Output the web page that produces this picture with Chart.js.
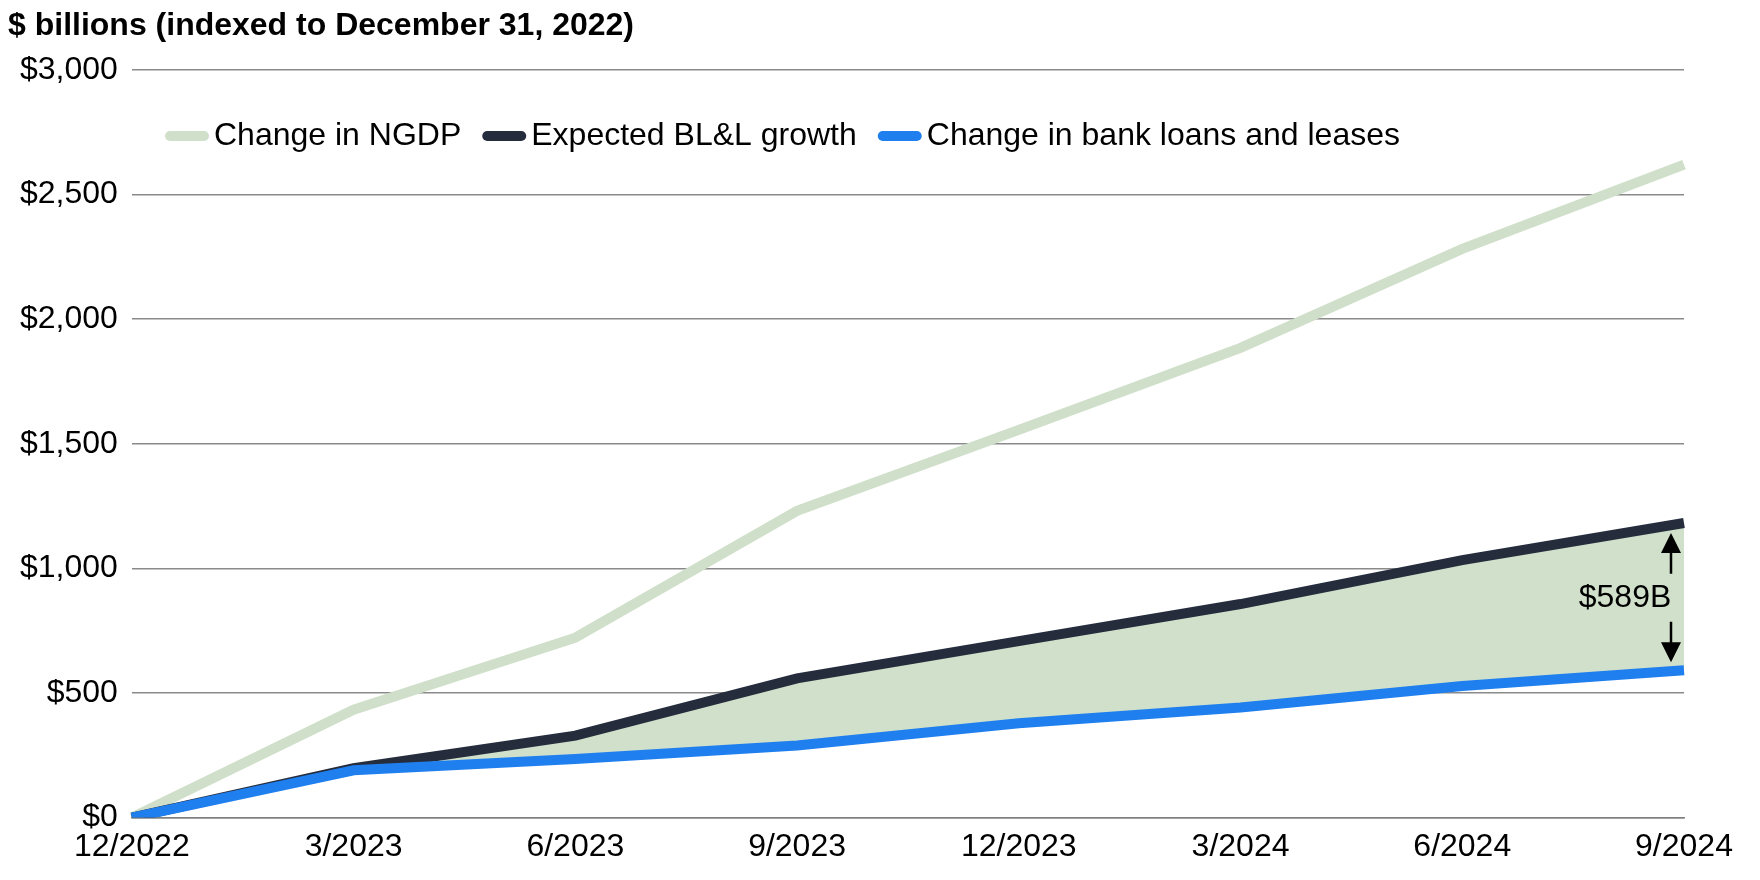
<!DOCTYPE html>
<html>
<head>
<meta charset="utf-8">
<script src="https://cdn.jsdelivr.net/npm/chart.js@4"></script>
<style>
  html, body { margin: 0; padding: 0; background: #fff; }
  #wrap { width: 1760px; height: 880px; }
</style>
</head>
<body>
<div id="wrap"><canvas id="c" width="1760" height="880"></canvas></div>
<script>
// ── Data ────────────────────────────────────────────────────────────────
const categories   = ['12/2022', '3/2023', '6/2023', '9/2023', '12/2023', '3/2024', '6/2024', '9/2024'];
const ngdp         = [0, 433, 722, 1231, 1556, 1885, 2282, 2620];
const expectedBLL  = [0, 198, 329, 559, 708, 857, 1033, 1182];
const bankLoans    = [0, 190, 235, 289, 379, 442, 528, 591];
const gapLabel     = '$589B';

const FONT = 'Liberation Sans, Arial, sans-serif';
const C_NGDP = '#cfdfc9', C_EXP = '#252d3d', C_BANK = '#1f7fef', C_FILL = '#d0e0ca';

// ── Custom drawing: title, legend inside the plot, gap annotation ───────
const extras = {
  id: 'extras',
  afterDraw(chart) {
    const { ctx, scales } = chart;
    ctx.save();
    // title
    ctx.fillStyle = '#000';
    ctx.font = 'bold 32px ' + FONT;
    ctx.textBaseline = 'middle';
    ctx.textAlign = 'left';
    ctx.fillText('$ billions (indexed to December 31, 2022)', 8, 26);

    // legend
    const items = [['Change in NGDP', C_NGDP], ['Expected BL&L growth', C_EXP], ['Change in bank loans and leases', C_BANK]];
    ctx.font = '32px ' + FONT;
    let x = 170; const y = 136;
    for (const [txt, col] of items) {
      ctx.strokeStyle = col; ctx.lineWidth = 10; ctx.lineCap = 'round';
      ctx.beginPath(); ctx.moveTo(x, y); ctx.lineTo(x + 34, y); ctx.stroke();
      ctx.fillStyle = '#000';
      ctx.fillText(txt, x + 44, y);
      x += 44 + ctx.measureText(txt).width + 26;
    }

    // gap annotation at last point
    const last = categories.length - 1;
    const ax = scales.x.getPixelForValue(last) - 13;
    const yTop = scales.y.getPixelForValue(expectedBLL[last]) + 10;
    const yBot = scales.y.getPixelForValue(bankLoans[last]) - 8;
    const yMid = (yTop + yBot) / 2;
    ctx.strokeStyle = '#000'; ctx.fillStyle = '#000'; ctx.lineWidth = 2.5; ctx.lineCap = 'butt';
    ctx.beginPath();
    ctx.moveTo(ax, yTop + 14); ctx.lineTo(ax, yMid - 24);
    ctx.moveTo(ax, yMid + 24); ctx.lineTo(ax, yBot - 14);
    ctx.stroke();
    ctx.beginPath(); ctx.moveTo(ax, yTop); ctx.lineTo(ax - 10, yTop + 20); ctx.lineTo(ax + 10, yTop + 20); ctx.fill();
    ctx.beginPath(); ctx.moveTo(ax, yBot); ctx.lineTo(ax - 10, yBot - 20); ctx.lineTo(ax + 10, yBot - 20); ctx.fill();
    ctx.font = '32px ' + FONT;
    ctx.textAlign = 'center';
    ctx.fillText(gapLabel, ax - 46, yMid);
    ctx.restore();
  }
};

new Chart(document.getElementById('c'), {
  type: 'line',
  data: {
    labels: categories,
    datasets: [
      { label: 'Change in NGDP', data: ngdp, borderColor: C_NGDP, borderWidth: 10, pointRadius: 0, fill: false, order: 3 },
      { label: 'Expected BL&L growth', data: expectedBLL, borderColor: C_EXP, backgroundColor: C_FILL, borderWidth: 10, pointRadius: 0, fill: '+1', order: 2 },
      { label: 'Change in bank loans and leases', data: bankLoans, borderColor: C_BANK, borderWidth: 10, pointRadius: 0, fill: false, order: 1 }
    ]
  },
  options: {
    responsive: false,
    animation: false,
    layout: { padding: { top: 70, right: 76, left: 6, bottom: 12 } },
    plugins: { legend: { display: false }, tooltip: { enabled: false } },
    scales: {
      x: {
        grid: { display: false },
        border: { color: '#808080', width: 1.5 },
        ticks: { color: '#000', font: { family: FONT, size: 32 }, maxRotation: 0, padding: 2 }
      },
      y: {
        min: 0, max: 3000,
        grid: { color: '#8a8a8a', lineWidth: 1.5, drawTicks: false },
        border: { display: false },
        ticks: {
          stepSize: 500, color: '#000', padding: 14,
          font: { family: FONT, size: 32 },
          callback: v => '$' + v.toLocaleString('en-US')
        }
      }
    }
  },
  plugins: [extras]
});
</script>
</body>
</html>
